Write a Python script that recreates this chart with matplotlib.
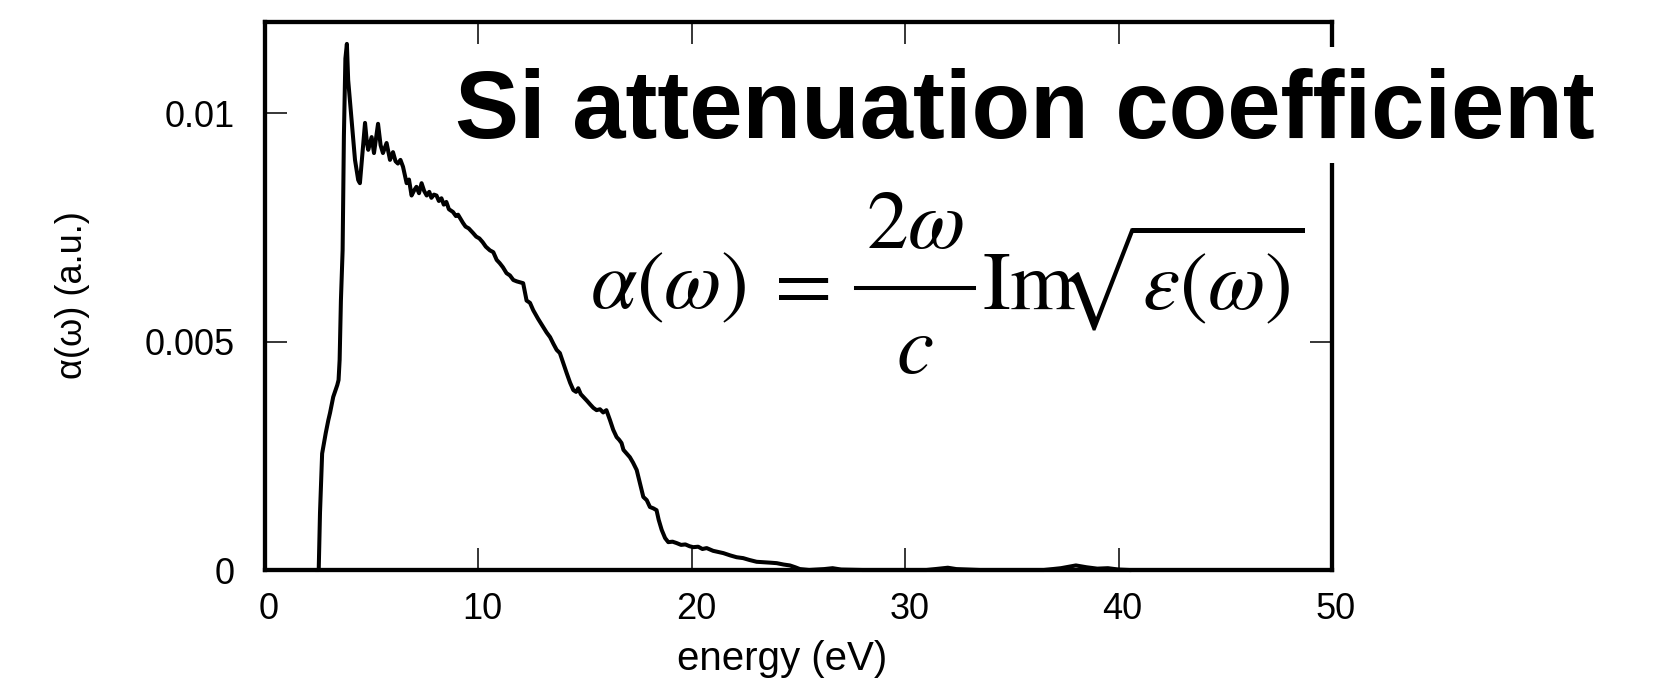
import matplotlib
matplotlib.use('Agg')
import matplotlib.pyplot as plt
import matplotlib.transforms as mtransforms
from matplotlib.patches import Rectangle
from matplotlib.lines import Line2D

plt.rcParams['font.family'] = ['Liberation Sans', 'DejaVu Sans']
plt.rcParams['mathtext.fontset'] = 'stix'

# Data
energy = [2.45, 2.52, 2.58, 2.68, 2.85, 2.97, 3.05, 3.2, 3.39, 3.45,
          3.50, 3.56, 3.64, 3.70, 3.77, 3.84, 3.90, 4.06, 4.22, 4.37,
          4.45, 4.58, 4.69, 4.78, 4.84, 5.00, 5.11, 5.22, 5.30, 5.42,
          5.53, 5.70, 5.86, 6.00, 6.12, 6.23, 6.35, 6.47, 6.64, 6.75,
          6.87, 7.0, 7.1, 7.22, 7.34, 7.46, 7.58, 7.7, 7.8, 7.92,
          8.04, 8.15, 8.27, 8.38, 8.5, 8.62, 8.81, 8.95, 9.05, 9.28,
          9.4, 9.55, 9.75, 9.9, 10.05, 10.2, 10.35, 10.54, 10.7, 10.86,
          11.0, 11.15, 11.32, 11.48, 11.64, 11.8, 11.95, 12.1, 12.26, 12.42,
          12.57, 12.8, 13.04, 13.2, 13.36, 13.52, 13.67, 13.82, 14.0, 14.14,
          14.3, 14.45, 14.58, 14.68, 14.8, 14.92, 15.1, 15.25, 15.39, 15.54,
          15.7, 15.85, 16.0, 16.17, 16.32, 16.48, 16.6, 16.71, 16.8, 16.95,
          17.1, 17.25, 17.42, 17.5, 17.65, 17.73, 17.89, 18.04, 18.2, 18.35,
          18.45, 18.59, 18.75, 18.9, 19.1, 19.29, 19.5, 19.7, 19.9, 20.07,
          20.3, 20.5, 20.7, 21.0, 21.2, 21.48, 21.8, 22.1, 22.41, 22.7,
          23.04, 23.4, 23.7, 23.98, 24.3, 24.6, 24.85, 25.07, 25.5, 26.2,
          26.6, 27.0, 28.0, 31.0, 31.6, 32.0, 32.4, 33.5, 36.5, 37.3,
          38.0, 38.5, 39.0, 39.5, 40.0, 40.5]
alpha = [0.0, 0.0, 0.00125, 0.00255, 0.00300, 0.00328, 0.00344, 0.00379, 0.00405, 0.00416,
         0.0046, 0.0059, 0.0070, 0.0095, 0.0112, 0.01152, 0.01073, 0.00985, 0.00898, 0.00854,
         0.00847, 0.00920, 0.00979, 0.00935, 0.00920, 0.00948, 0.00913, 0.00950, 0.00977, 0.00930,
         0.00913, 0.00935, 0.00898, 0.00915, 0.00895, 0.00890, 0.00898, 0.00883, 0.00847, 0.00855,
         0.00820, 0.00832, 0.00839, 0.00825, 0.00847, 0.00830, 0.00820, 0.00828, 0.00815, 0.00822,
         0.00820, 0.00808, 0.00814, 0.00800, 0.00806, 0.00790, 0.00784, 0.00775, 0.00778, 0.00760,
         0.00752, 0.00748, 0.00738, 0.00730, 0.00726, 0.00718, 0.00708, 0.00700, 0.00696, 0.00679,
         0.00672, 0.00663, 0.00650, 0.00645, 0.00635, 0.00632, 0.00630, 0.00628, 0.00590, 0.00585,
         0.00569, 0.00550, 0.00532, 0.00520, 0.00510, 0.00495, 0.00482, 0.00475, 0.00450, 0.00431,
         0.00410, 0.00394, 0.00390, 0.00398, 0.00385, 0.00379, 0.00370, 0.00362, 0.00355, 0.00350,
         0.00352, 0.00345, 0.00350, 0.00328, 0.00307, 0.00291, 0.00285, 0.00278, 0.00263, 0.00255,
         0.00247, 0.00235, 0.00219, 0.00204, 0.00175, 0.00160, 0.00153, 0.00138, 0.00135, 0.00131,
         0.00110, 0.00088, 0.00070, 0.00061, 0.00062, 0.00059, 0.00055, 0.00056, 0.00052, 0.00050,
         0.00051, 0.00046, 0.00048, 0.00042, 0.00040, 0.00037, 0.00032, 0.00028, 0.00026, 0.00022,
         0.00018, 0.00017, 0.00016, 0.00015, 0.00012, 0.00010, 0.00006, 0.00002, 0.0, 0.00002,
         0.00004, 0.00001, 0.0, 0.0, 0.00003, 0.00005, 0.00002, 0.0, 0.0, 0.00004,
         0.00010, 0.00006, 0.00003, 0.00004, 0.00001, 0.0]

xticks = [0, 10, 20, 30, 40, 50]
yticks = [0, 0.005, 0.01]
ytick_labels = ['0', '0.005', '0.01']

W, H = 1660, 691
fig = plt.figure(figsize=(16.6, 6.91), dpi=100)
ax = fig.add_axes([0.1596, 0.1751, 0.6428, 0.7931])

ax.plot(energy, alpha, color='black', lw=2.9, solid_joinstyle='round', clip_on=False)

ax.set_xlim(0, 50)
ax.set_ylim(0, 0.012)
ax.set_xticks(xticks)
ax.set_xticklabels([str(t) for t in xticks])
ax.set_yticks(yticks)
ax.set_yticklabels(ytick_labels)

for s in ax.spines.values():
    s.set_linewidth(3.1)
ax.tick_params(direction='in', top=True, right=True, length=16, width=1.1,
               labelsize=26)
ax.tick_params(axis='x', pad=16)
ax.tick_params(axis='y', pad=22)

# x tick labels sit a few px right of their ticks in the reference
shift = mtransforms.ScaledTranslation(4 / 100, 0, fig.dpi_scale_trans)
for lab in ax.get_xticklabels():
    lab.set_transform(lab.get_transform() + shift)

ax.set_xlabel('energy (eV)', fontsize=29)
ax.xaxis.set_label_coords(0.4845, -0.128)
ax.set_ylabel('α(ω) (a.u.)', fontsize=26)
ax.yaxis.set_label_coords(-0.164, 0.502)

# white band behind the big title (hides part of the frame)
fig.patches.append(Rectangle((440 / W, 1 - 163 / H), 1180 / W, 116 / H,
                             transform=fig.transFigure, facecolor='white',
                             edgecolor='none', zorder=2.5))
fig.text(455 / W, 1 - 138 / H, 'Si attenuation coefficient',
         fontsize=69, fontweight='bold', ha='left', va='baseline', zorder=3)

# formula, assembled piece by piece so the fraction is full size
fs = 60
fig.text(590 / W, 1 - 308 / H, r'$\alpha(\omega)$', fontsize=fs, ha='left', va='baseline')
fig.text(796 / W, 1 - 308 / H, r'$=$', fontsize=fs, ha='center', va='baseline')
fig.add_artist(Line2D([856 / W, 974 / W], [1 - 288 / H, 1 - 288 / H],
                      transform=fig.transFigure, color='black', lw=2.9))
fig.text(915 / W, 1 - 248 / H, r'$2\omega$', fontsize=fs, ha='center', va='baseline')
fig.text(915 / W, 1 - 373 / H, r'$c$', fontsize=fs, ha='center', va='baseline')
fig.text(982 / W, 1 - 308 / H, r'$\mathrm{Im}\!\!\sqrt{\varepsilon(\omega)}$',
         fontsize=fs, ha='left', va='baseline')

fig.savefig('out.png', dpi=100)
